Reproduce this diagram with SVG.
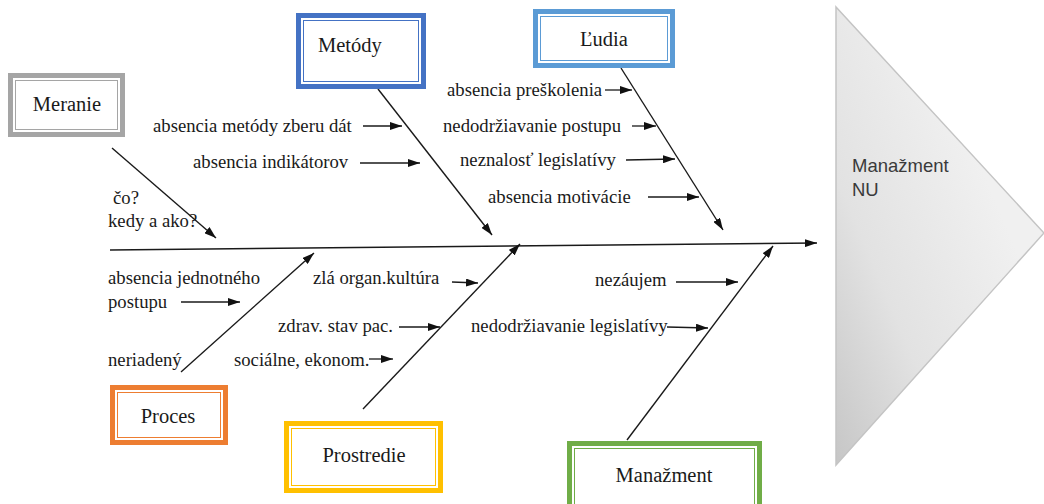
<svg xmlns="http://www.w3.org/2000/svg" width="1044" height="504" viewBox="0 0 1044 504">
  <defs>
    <marker id="arrow" viewBox="0 0 12 8" refX="12" refY="4" markerWidth="12" markerHeight="8" markerUnits="userSpaceOnUse" orient="auto">
      <path d="M0,0 L12,4 L0,8 Z" fill="#111"/>
    </marker>
    <linearGradient id="headFill" x1="0" y1="1" x2="0.7" y2="0.35">
      <stop offset="0" stop-color="#c6c6c6"/>
      <stop offset="0.45" stop-color="#e2e2e2"/>
      <stop offset="1" stop-color="#f0f0f0"/>
    </linearGradient>
    <style>
      .txt { font-family: "Liberation Serif", "Times New Roman", serif; font-size: 18.7px; fill: #1a1a1a; }
      .lbl { font-family: "Liberation Serif", "Times New Roman", serif; font-size: 20.5px; fill: #1a1a1a; }
      .head { font-family: "Liberation Sans", "Open Sans", sans-serif; font-size: 18.5px; fill: #3a3a3a; }
      .bone { stroke: #1a1a1a; stroke-width: 1.4; fill: none; marker-end: url(#arrow); }
      .twig { stroke: #1a1a1a; stroke-width: 1.3; fill: none; marker-end: url(#arrow); }
      .frame { fill: #fff; stroke-width: 5; }
      .inner { fill: none; stroke-width: 1; }
    </style>
  </defs>

  <rect width="1044" height="504" fill="#fff"/>

  <!-- effect head -->
  <g id="effect">
    <polygon points="836,7 1044,233 836,465" fill="url(#headFill)" stroke="#c4c4c4" stroke-width="1.5"/>
    <text class="head" x="852" y="172">Manažment</text>
    <text class="head" x="852" y="196">NU</text>
  </g>

  <!-- spine, category bones and cause arrows -->
  <g id="connectors">
    <line class="bone" x1="110" y1="250" x2="817" y2="243"/>

    <line class="bone" x1="112" y1="148" x2="216" y2="238"/>
    <line class="bone" x1="378" y1="89" x2="492" y2="235"/>
    <line class="bone" x1="621" y1="68" x2="723" y2="230"/>
    <line class="bone" x1="181" y1="372" x2="314" y2="253"/>
    <line class="bone" x1="363" y1="409" x2="520" y2="244"/>
    <line class="bone" x1="627" y1="440" x2="773" y2="246"/>

    <line class="twig" x1="363" y1="126" x2="402" y2="126"/>
    <line class="twig" x1="360" y1="163" x2="420" y2="163"/>
    <line class="twig" x1="605" y1="90" x2="632" y2="90"/>
    <line class="twig" x1="632" y1="126" x2="656" y2="126"/>
    <line class="twig" x1="626" y1="160" x2="675" y2="159"/>
    <line class="twig" x1="648" y1="197" x2="699" y2="197"/>

    <line class="twig" x1="181" y1="302" x2="240" y2="302"/>
    <line class="twig" x1="452" y1="282" x2="478" y2="283"/>
    <line class="twig" x1="399" y1="327" x2="440" y2="327"/>
    <line class="twig" x1="369" y1="359" x2="393" y2="359"/>
    <line class="twig" x1="676" y1="282" x2="738" y2="282"/>
    <line class="twig" x1="667" y1="327" x2="708" y2="328"/>
  </g>

  <!-- cause labels -->
  <g id="causes">
    <text class="txt" x="153" y="132">absencia metódy zberu dát</text>
    <text class="txt" x="193" y="168">absencia indikátorov</text>
    <text class="txt" x="113" y="204">čo?</text>
    <text class="txt" x="108" y="227">kedy a ako?</text>
    <text class="txt" x="447" y="96">absencia preškolenia</text>
    <text class="txt" x="443" y="132">nedodržiavanie postupu</text>
    <text class="txt" x="460" y="166">neznalosť legislatívy</text>
    <text class="txt" x="488" y="203">absencia motivácie</text>
    <text class="txt" x="108" y="284">absencia jednotného</text>
    <text class="txt" x="108" y="308">postupu</text>
    <text class="txt" x="108" y="366">neriadený</text>
    <text class="txt" x="313" y="284">zlá organ.kultúra</text>
    <text class="txt" x="278" y="332">zdrav. stav pac.</text>
    <text class="txt" x="234" y="366">sociálne, ekonom.</text>
    <text class="txt" x="595" y="286">nezáujem</text>
    <text class="txt" x="471" y="332">nedodržiavanie legislatívy</text>
  </g>

  <!-- category boxes -->
  <g id="meranie">
    <rect class="frame" x="10.5" y="75.5" width="112" height="59" stroke="#a5a5a5"/>
    <rect class="inner" x="15.5" y="80.5" width="102" height="49" stroke="#a5a5a5"/>
    <text class="lbl" x="67" y="111" text-anchor="middle">Meranie</text>
  </g>
  <g id="metody">
    <rect class="frame" x="298.5" y="15.5" width="125" height="71" stroke="#4472c4"/>
    <rect class="inner" x="303.5" y="20.5" width="115" height="61" stroke="#4472c4"/>
    <text class="lbl" x="318" y="52">Metódy</text>
  </g>
  <g id="ludia">
    <rect class="frame" x="535.5" y="11.5" width="137" height="54" stroke="#5b9bd5"/>
    <rect class="inner" x="540.5" y="16.5" width="127" height="44" stroke="#5b9bd5"/>
    <text class="lbl" x="604" y="46" text-anchor="middle">Ľudia</text>
  </g>
  <g id="proces">
    <rect class="frame" x="112.5" y="387.5" width="113" height="55" stroke="#ed7d31"/>
    <rect class="inner" x="117.5" y="392.5" width="103" height="45" stroke="#ed7d31"/>
    <text class="lbl" x="168" y="423" text-anchor="middle">Proces</text>
  </g>
  <g id="prostredie">
    <rect class="frame" x="286.5" y="423.5" width="154" height="67" stroke="#ffc000"/>
    <rect class="inner" x="291.5" y="428.5" width="144" height="57" stroke="#ffc000"/>
    <text class="lbl" x="364" y="462" text-anchor="middle">Prostredie</text>
  </g>
  <g id="manazment">
    <rect class="frame" x="569.5" y="443.5" width="190" height="66" stroke="#70ad47"/>
    <rect class="inner" x="574.5" y="448.5" width="180" height="56" stroke="#70ad47"/>
    <text class="lbl" x="664" y="482" text-anchor="middle">Manažment</text>
  </g>
</svg>
